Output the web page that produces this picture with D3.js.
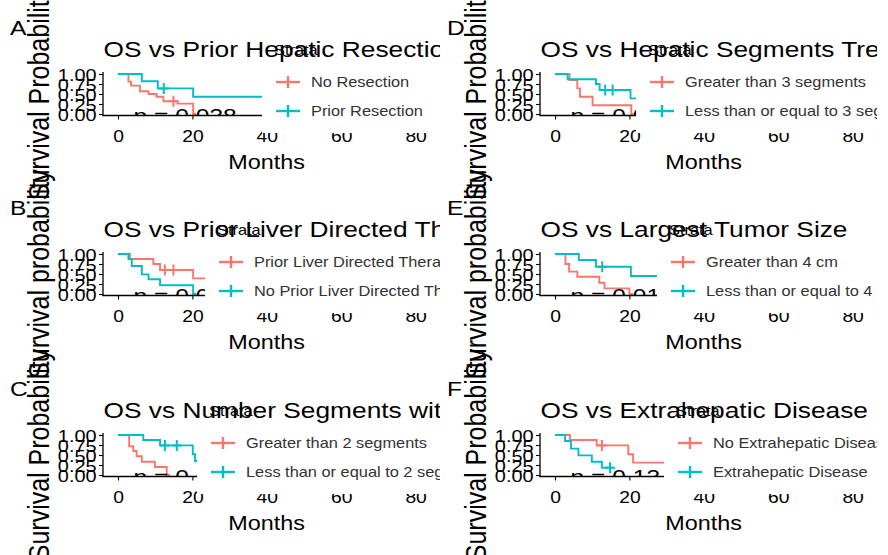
<!DOCTYPE html>
<html>
<head>
<meta charset="utf-8">
<script src="https://cdn.jsdelivr.net/npm/d3@7/dist/d3.min.js"></script>
<style>
  html, body { margin: 0; padding: 0; background: #ffffff; }
  svg { display: block; font-family: "Liberation Sans", Arial, sans-serif; }
</style>
</head>
<body>
<div id="chart"></div>
<script>
// ---------------- data ----------------
const panelLetters = ["A", "B", "C", "D", "E", "F"];
const panelTitles = [
  "OS vs Prior Hepatic Resection",
  "OS vs Prior Liver Directed Therapy",
  "OS vs Number Segments with Disease",
  "OS vs Hepatic Segments Treated",
  "OS vs Largest Tumor Size",
  "OS vs Extrahepatic Disease"
];
const yAxisTitles = [
  "Survival Probability", "Survival probability", "Survival Probability",
  "Survival Probability", "Survival probability", "Survival Probability"
];
const strataLabels = [
  ["No Resection", "Prior Resection"],
  ["Prior Liver Directed Therapy", "No Prior Liver Directed Therapy"],
  ["Greater than 2 segments", "Less than or equal to 2 segments"],
  ["Greater than 3 segments", "Less than or equal to 3 segments"],
  ["Greater than 4 cm", "Less than or equal to 4 cm"],
  ["No Extrahepatic Disease", "Extrahepatic Disease"]
];
const pValues = ["p = 0.038", "p = 0.0033", "p = 0.0012", "p = 0.0097", "p = 0.014", "p = 0.13"];
const legendTitle = "Strata";
const xAxisTitle = "Months";
const xTicks = [0, 20, 40, 60, 80];
const yTicks = [0, 0.25, 0.5, 0.75, 1];

// Kaplan-Meier step curves: [months, survival]
const survA1 = [[0,1],[2.8,0.81],[3.5,0.71],[5.9,0.57],[8.2,0.5],[10.4,0.43],[12.2,0.32],[16,0.26],[20.2,0],[21,0]];
const censA1 = [14.9];
const survA2 = [[0,1],[6.4,0.82],[10.7,0.64],[20.2,0.43],[80,0.43]];
const censA2 = [12.3];

const survB1 = [[0,1],[3.2,0.875],[9.5,0.75],[11.3,0.6],[20.2,0.39],[30,0.39]];
const censB1 = [12.6, 14.9];
const survB2 = [[0,1],[2.8,0.875],[3.7,0.7],[6.4,0.49],[8.2,0.37],[11.3,0.22],[20.2,0],[21,0]];
const censB2 = [];

const survC1 = [[0,1],[3.0,0.72],[4.1,0.6],[5.0,0.47],[6.4,0.33],[9.9,0.2],[13.1,0],[14,0]];
const censC1 = [];
const survC2 = [[0,1],[6.8,0.875],[11.3,0.74],[20.1,0.52],[20.7,0.35],[30,0.35]];
const censC2 = [12.6, 15.8];

const survD1 = [[0,1],[3.9,0.85],[6.0,0.64],[6.7,0.43],[10.1,0.22],[20.5,0],[21,0]];
const censD1 = [];
const survD2 = [[0,1],[3.4,0.87],[11,0.75],[12,0.6],[20.3,0.39],[30,0.39]];
const censD2 = [13.5, 15.5];

const survE1 = [[0,1],[2.8,0.75],[3.8,0.56],[6.0,0.43],[11.9,0.28],[13.3,0.14],[20,0],[21,0]];
const censE1 = [];
const survE2 = [[0,1],[6.4,0.85],[11,0.68],[20.4,0.45],[30,0.45]];
const censE2 = [12.7];

const survF1 = [[0,1],[4,0.875],[11.2,0.74],[19.7,0.52],[21,0.31],[30,0.31]];
const censF1 = [12.6];
const survF2 = [[0,1],[2.7,0.85],[4.3,0.66],[6.3,0.49],[9.9,0.33],[12.6,0.18],[15.5,0.18]];
const censF2 = [14.8];

const curves = [
  [[survA1, censA1], [survA2, censA2]],
  [[survB1, censB1], [survB2, censB2]],
  [[survC1, censC1], [survC2, censC2]],
  [[survD1, censD1], [survD2, censD2]],
  [[survE1, censE1], [survE2, censE2]],
  [[survF1, censF1], [survF2, censF2]]
];

// ---------------- layout / style ----------------
const W = 888, H = 555;
const SX = 1.17;                      // horizontal stretch of the original raster
const colX = [0, 437];
const rowY = [0, 180, 361];
const legendX = [262, 205, 197, 199, 220, 227];
const colors = ["#F8766D", "#00BFC4"];

const svg = d3.select("#chart").append("svg")
  .attr("width", W).attr("height", H);
svg.append("rect").attr("width", W).attr("height", H).attr("fill", "#fff");

const defs = svg.append("defs");
defs.append("clipPath").attr("id", "cellClip")
  .append("rect").attr("x", -60).attr("y", -400).attr("width", 500).attr("height", 1200);
defs.append("clipPath").attr("id", "panelClip")
  .append("rect").attr("x", 103).attr("y", 68).attr("width", 330).attr("height", 47.5);

function stretchedText(g, x, y, s, size, anchor, fill, extra) {
  return g.append("text")
    .attr("transform", `translate(${x},${y}) scale(${SX},1)` + (extra || ""))
    .attr("text-anchor", anchor || "start")
    .attr("font-size", size)
    .attr("fill", fill || "#000")
    .text(s);
}

function survAt(curve, t) {
  let s = 1;
  for (const [tt, v] of curve) { if (tt <= t) s = v; }
  return s;
}

panelLetters.forEach((letter, i) => {
  const col = i < 3 ? 0 : 1, row = i % 3;
  const cell = svg.append("g").attr("transform", `translate(${colX[col]},${rowY[row]})`);
  const g = cell.append("g").attr("clip-path", "url(#cellClip)");

  const x = d3.scaleLinear().domain([0, 80]).range([118, 118 + 80 * 3.72]);
  const y = d3.scaleLinear().domain([0, 1]).range([114, 74]);

  // y axis title
  stretchedText(g, 39, 94, yAxisTitles[i], 25, "middle", "#000", " rotate(-90)")
    .attr("dominant-baseline", "central");

  // plotting panel
  const panel = g.append("g").attr("clip-path", "url(#panelClip)");
  const line = d3.line().x(d => x(d[0])).y(d => y(d[1])).curve(d3.curveStepAfter);
  curves[i].forEach(([surv, cens], k) => {
    panel.append("path").attr("d", line(surv))
      .attr("fill", "none").attr("stroke", colors[k]).attr("stroke-width", 1.9);
    cens.forEach(t => {
      const cx = x(t), cy = y(survAt(surv, t));
      panel.append("path").attr("d", `M${cx - 5},${cy}H${cx + 5}M${cx},${cy - 5.5}V${cy + 5.5}`)
        .attr("stroke", colors[k]).attr("stroke-width", 2).attr("fill", "none");
    });
  });
  stretchedText(panel, x(4.2), 122.5, pValues[i], 21, "start", "#000");

  // axes
  const yAxis = g.append("g").attr("transform", "translate(103,0)")
    .call(d3.axisLeft(y).tickValues(yTicks).tickFormat(d3.format(".2f")).tickSize(4).tickSizeOuter(0));
  yAxis.select(".domain").remove();
  yAxis.selectAll("line").attr("stroke", "#000").attr("stroke-width", 1.1);
  yAxis.selectAll("text").attr("font-size", 17).attr("fill", "#000").attr("font-family", null)
    .attr("x", -5.5).attr("dy", "0.36em")
    .attr("transform", `scale(${SX},1)`);

  const xAxis = g.append("g").attr("transform", "translate(0,115.5)")
    .call(d3.axisBottom(x).tickValues(xTicks).tickFormat(d3.format("d")).tickSize(4).tickSizeOuter(0));
  xAxis.select(".domain").remove();
  xAxis.selectAll("line").attr("stroke", "#000").attr("stroke-width", 1.1);
  xAxis.selectAll("text").attr("font-size", 16.5).attr("fill", "#000").attr("font-family", null)
    .attr("y", 26.4).attr("dy", null)
    .attr("transform", `scale(${SX},1)`);

  g.append("line").attr("x1", 103).attr("x2", 103).attr("y1", 72).attr("y2", 116)
    .attr("stroke", "#000").attr("stroke-width", 1.3);
  g.append("line").attr("x1", 102.4).attr("x2", 431).attr("y1", 115.5).attr("y2", 115.5)
    .attr("stroke", "#000").attr("stroke-width", 1.3);

  stretchedText(g, 266.5, 169, xAxisTitle, 20, "middle", "#000");

  // legend
  const lx = legendX[i];
  g.append("rect").attr("x", lx).attr("y", 40).attr("width", 460 - lx).attr("height", 93)
    .attr("fill", "#fff");

  // title (drawn over legend background)
  stretchedText(g, 103.5, 56.5, panelTitles[i], 22.5, "start", "#000");

  stretchedText(g, lx + 12, 55, legendTitle, 14, "start", "#000");
  [82, 111].forEach((ky, k) => {
    g.append("line").attr("x1", lx + 14).attr("x2", lx + 38).attr("y1", ky).attr("y2", ky)
      .attr("stroke", colors[k]).attr("stroke-width", 2.4);
    g.append("line").attr("x1", lx + 26).attr("x2", lx + 26).attr("y1", ky - 6).attr("y2", ky + 6)
      .attr("stroke", colors[k]).attr("stroke-width", 2.4);
    stretchedText(g, lx + 49, ky + 5, strataLabels[i][k], 14, "start", "#333");
  });

  // panel letter
  stretchedText(g, 10, 35, letter, 21, "start", "#000");
});
</script>
</body>
</html>
